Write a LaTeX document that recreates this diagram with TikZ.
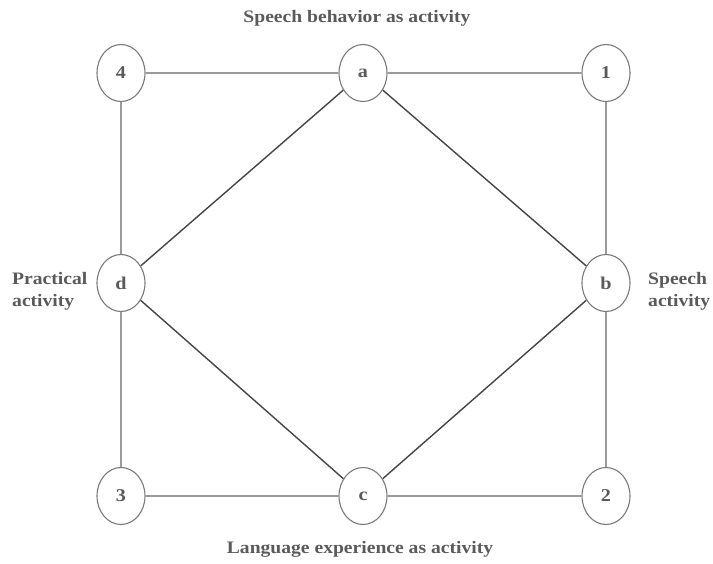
\documentclass[tikz,border=0pt]{standalone}
\usepackage{fontspec}
\setmainfont[FakeStretch=1.12]{Liberation Serif}
\usetikzlibrary{shapes.geometric}
\definecolor{txt}{HTML}{5A5A5A}
\definecolor{rim}{HTML}{7A7A7A}
\definecolor{frame}{HTML}{9A9A9A}
\definecolor{diag}{HTML}{454545}
\tikzset{
  vtx/.style={ellipse, draw=rim, line width=1.1pt, fill=white,
    minimum width=48pt, minimum height=57pt, inner sep=0pt,
    font=\bfseries\fontsize{18}{18}\selectfont, text=txt},
  caption/.style={font=\bfseries\fontsize{17.5}{22}\selectfont, text=txt, inner sep=0pt},
  side/.style={line width=1.1pt, draw=frame},
  cross/.style={line width=1.4pt, draw=diag}
}
\begin{document}
\begin{tikzpicture}[x=1pt,y=-1pt]
\useasboundingbox (0,0) rectangle (713,563);
% vertices
\node[vtx] (n4) at (121,73) {4};
\node[vtx] (a)  at (363,73) {a};
\node[vtx] (n1) at (606,73) {1};
\node[vtx] (d)  at (121,283) {d};
\node[vtx] (b)  at (606,283) {b};
\node[vtx] (n3) at (121,496) {3};
\node[vtx] (c)  at (363,496) {c};
\node[vtx] (n2) at (606,496) {2};
% outer square
\draw[side] (n4) -- (a);
\draw[side] (a) -- (n1);
\draw[side] (n1) -- (b);
\draw[side] (b) -- (n2);
\draw[side] (n2) -- (c);
\draw[side] (c) -- (n3);
\draw[side] (n3) -- (d);
\draw[side] (d) -- (n4);
% inner diamond
\draw[cross] (a) -- (b);
\draw[cross] (b) -- (c);
\draw[cross] (c) -- (d);
\draw[cross] (d) -- (a);
% captions
\node[caption] (top) at (357,18) {Speech behavior as activity};
\node[caption] (bot) at (360,549) {Language experience as activity};
\node[caption, anchor=west, align=left] (left) at (12,291) {Practical\\activity};
\node[caption, anchor=west, align=left] (right) at (648,291) {Speech\\activity};
\end{tikzpicture}
\end{document}
